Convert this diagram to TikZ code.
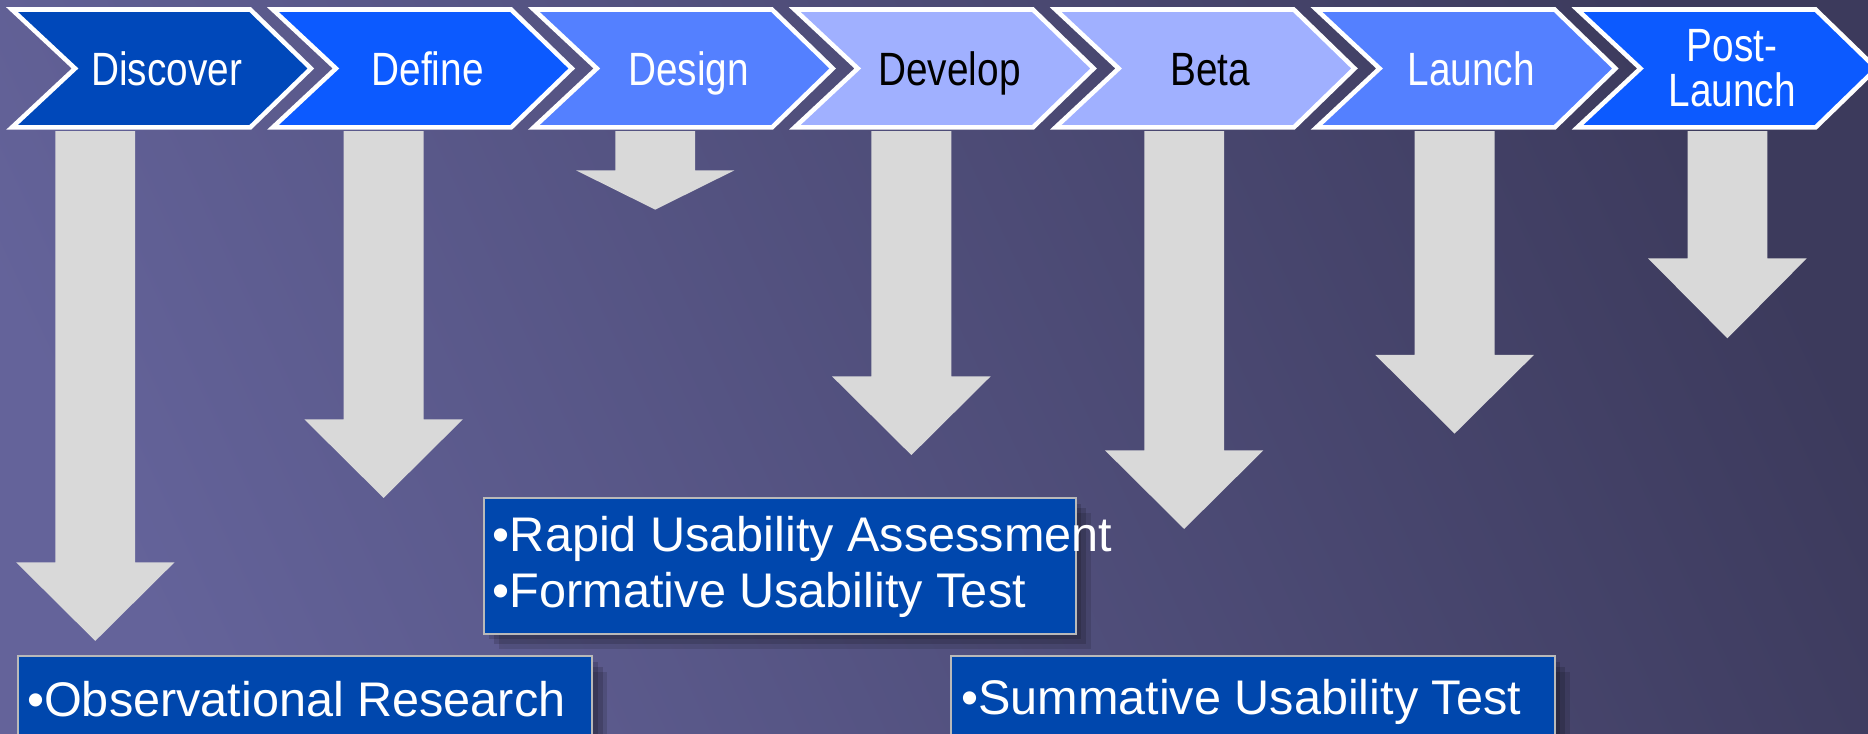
\documentclass[tikz,border=0pt]{standalone}
\usepackage{fontspec}
\setmainfont{Liberation Sans}
\newfontfamily\narrowfont{Liberation Sans}[FakeStretch=0.83]
\usepackage{tikz}
\usetikzlibrary{shadows}

\definecolor{bgleft}{RGB}{100,99,154}
\definecolor{bgmid}{RGB}{87,86,133}
\definecolor{bgright}{RGB}{60,58,92}
\definecolor{phaseA}{RGB}{0,72,186}
\definecolor{phaseB}{RGB}{12,90,255}
\definecolor{phaseC}{RGB}{84,128,255}
\definecolor{phaseD}{RGB}{160,176,255}
\definecolor{arrowgray}{RGB}{217,217,217}
\definecolor{boxblue}{RGB}{0,71,173}

% down arrow below a phase: centre x, head base y, tip y
\newcommand{\phasearrow}[3]{%
  \fill[arrowgray] (#1-33.5,110) -- (#1+33.5,110) -- (#1+33.5,#2) -- (#1+66.5,#2)
    -- (#1,#3) -- (#1-66.5,#2) -- (#1-33.5,#2) -- cycle;}

\begin{document}
\begin{tikzpicture}[x=0.25pt, y=-0.25pt,
  chevron/.style={draw=white, line width=0.95pt, miter limit=10},
  phaselabel/.style={font=\narrowfont\fontsize{9.8}{9.5}\selectfont, align=center, inner sep=0pt},
  oneline/.style={text height=7pt, text depth=0pt},
  twolines/.style={},
  activitybox/.style={fill=boxblue, draw=gray!55, line width=0.4pt, inner sep=0pt, outer sep=0pt,
    drop shadow={shadow xshift=1.2pt, shadow yshift=-1.2pt, opacity=0.15, fill=black},
    drop shadow={shadow xshift=2.2pt, shadow yshift=-2.2pt, opacity=0.15, fill=black},
    drop shadow={shadow xshift=3.2pt, shadow yshift=-3.2pt, opacity=0.12, fill=black}},
  activitytext/.style={text=white, font=\fontsize{10.2}{11.75}\selectfont, align=left, inner sep=0pt, anchor=west}]
\useasboundingbox (0,0) rectangle (1568,616);
\clip (0,0) rectangle (1568,616);
\shade[left color=bgleft, middle color=bgmid, right color=bgright, shading angle=115] (-50,-50) rectangle (1618,666);

% phases
\foreach \i/\nm/\fc/\tc/\st/\lbl in {0/discover/phaseA/white/oneline/Discover, 1/define/phaseB/white/oneline/Define,
    2/design/phaseC/white/oneline/Design, 3/develop/phaseD/black/oneline/Develop, 4/beta/phaseD/black/oneline/Beta,
    5/launch/phaseC/white/oneline/Launch, 6/postlaunch/phaseB/white/twolines/{Post-\\Launch}}{
  \pgfmathsetmacro\xo{10+219*\i}
  \draw[chevron, fill=\fc] (\xo,8) -- (\xo+200,8) -- (\xo+251,57.5) -- (\xo+200,107)
    -- (\xo,107) -- (\xo+53,57.5) -- cycle;
  \node[phaselabel, \st, text=\tc] (\nm) at (\xo+130,57.5) {\lbl};
}

% arrows
\phasearrow{80}{472}{538}
\phasearrow{322}{352}{418}
\phasearrow{550}{143}{176}
\phasearrow{765}{316}{382}
\phasearrow{994}{378}{444}
\phasearrow{1221}{298}{364}
\phasearrow{1450}{217}{284}

% activities
\node[activitybox, minimum width=120.5pt, minimum height=22.25pt] (obs) at (256,595.5) {};
\node[activitybox, minimum width=124.25pt, minimum height=28.5pt] (rapid) at (654.5,475) {};
\node[activitybox, minimum width=126.75pt, minimum height=22.25pt] (summ) at (1051.5,595.5) {};
\node[activitytext] (obstext) at (22,587) {•Observational Research};
\node[activitytext] (rapidtext) at (413,476) {•Rapid Usability Assessment\\•Formative Usability Test};
\node[activitytext] (summtext) at (806,589) {•Summative Usability Test};

\end{tikzpicture}
\end{document}
